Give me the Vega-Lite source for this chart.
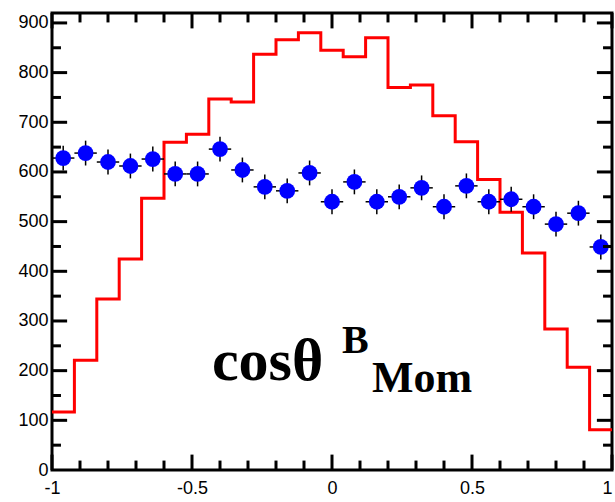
{
  "$schema": "https://vega.github.io/schema/vega-lite/v6.json",
  "width": 560,
  "height": 457,
  "autosize": {"type": "none"},
  "padding": {"left": 52, "top": 13, "right": 3, "bottom": 32},
  "background": "white",
  "config": {
    "view": {"stroke": "black", "strokeWidth": 3},
    "axis": {"ticks": false, "domain": false, "grid": false, "title": null, "labelFont": "Liberation Sans", "labelFontSize": 18, "labelColor": "black"}
  },
  "datasets": {
    "hist": [
      {"edge": -1.00, "n": 117}, {"edge": -0.92, "n": 221}, {"edge": -0.84, "n": 344}, {"edge": -0.76, "n": 425},
      {"edge": -0.68, "n": 547}, {"edge": -0.60, "n": 660}, {"edge": -0.52, "n": 676}, {"edge": -0.44, "n": 747},
      {"edge": -0.36, "n": 741}, {"edge": -0.28, "n": 837}, {"edge": -0.20, "n": 866}, {"edge": -0.12, "n": 880},
      {"edge": -0.04, "n": 845}, {"edge": 0.04, "n": 832}, {"edge": 0.12, "n": 870}, {"edge": 0.20, "n": 770},
      {"edge": 0.28, "n": 775}, {"edge": 0.36, "n": 713}, {"edge": 0.44, "n": 661}, {"edge": 0.52, "n": 585},
      {"edge": 0.60, "n": 519}, {"edge": 0.68, "n": 437}, {"edge": 0.76, "n": 284}, {"edge": 0.84, "n": 207},
      {"edge": 0.92, "n": 81}, {"edge": 1.00, "n": 81}
    ],
    "pts": [
      {"x": -0.96, "lo": -1.00, "hi": -0.92, "n": 628, "err": 25},
      {"x": -0.88, "lo": -0.92, "hi": -0.84, "n": 638, "err": 25},
      {"x": -0.80, "lo": -0.84, "hi": -0.76, "n": 620, "err": 25},
      {"x": -0.72, "lo": -0.76, "hi": -0.68, "n": 612, "err": 25},
      {"x": -0.64, "lo": -0.68, "hi": -0.60, "n": 626, "err": 25},
      {"x": -0.56, "lo": -0.60, "hi": -0.52, "n": 596, "err": 25},
      {"x": -0.48, "lo": -0.52, "hi": -0.44, "n": 596, "err": 25},
      {"x": -0.40, "lo": -0.44, "hi": -0.36, "n": 646, "err": 25},
      {"x": -0.32, "lo": -0.36, "hi": -0.28, "n": 604, "err": 25},
      {"x": -0.24, "lo": -0.28, "hi": -0.20, "n": 570, "err": 25},
      {"x": -0.16, "lo": -0.20, "hi": -0.12, "n": 562, "err": 25},
      {"x": -0.08, "lo": -0.12, "hi": -0.04, "n": 598, "err": 25},
      {"x": 0.00, "lo": -0.04, "hi": 0.04, "n": 540, "err": 25},
      {"x": 0.08, "lo": 0.04, "hi": 0.12, "n": 580, "err": 25},
      {"x": 0.16, "lo": 0.12, "hi": 0.20, "n": 540, "err": 25},
      {"x": 0.24, "lo": 0.20, "hi": 0.28, "n": 550, "err": 25},
      {"x": 0.32, "lo": 0.28, "hi": 0.36, "n": 568, "err": 25},
      {"x": 0.40, "lo": 0.36, "hi": 0.44, "n": 530, "err": 25},
      {"x": 0.48, "lo": 0.44, "hi": 0.52, "n": 572, "err": 25},
      {"x": 0.56, "lo": 0.52, "hi": 0.60, "n": 540, "err": 25},
      {"x": 0.64, "lo": 0.60, "hi": 0.68, "n": 545, "err": 25},
      {"x": 0.72, "lo": 0.68, "hi": 0.76, "n": 530, "err": 25},
      {"x": 0.80, "lo": 0.76, "hi": 0.84, "n": 495, "err": 25},
      {"x": 0.88, "lo": 0.84, "hi": 0.92, "n": 517, "err": 25},
      {"x": 0.96, "lo": 0.92, "hi": 1.00, "n": 449, "err": 25}
    ],
    "xmajor": [{"v": -1}, {"v": -0.5}, {"v": 0}, {"v": 0.5}, {"v": 1}],
    "xminor": [{"v": -0.9}, {"v": -0.8}, {"v": -0.7}, {"v": -0.6}, {"v": -0.4}, {"v": -0.3}, {"v": -0.2}, {"v": -0.1}, {"v": 0.1}, {"v": 0.2}, {"v": 0.3}, {"v": 0.4}, {"v": 0.6}, {"v": 0.7}, {"v": 0.8}, {"v": 0.9}],
    "ymajor": [{"v": 100}, {"v": 200}, {"v": 300}, {"v": 400}, {"v": 500}, {"v": 600}, {"v": 700}, {"v": 800}, {"v": 900}],
    "yminor": [{"v": 50}, {"v": 150}, {"v": 250}, {"v": 350}, {"v": 450}, {"v": 550}, {"v": 650}, {"v": 750}, {"v": 850}]
  },
  "layer": [
    {
      "data": {"name": "hist"},
      "mark": {"type": "line", "interpolate": "step-after", "color": "#ff0000", "strokeWidth": 3},
      "encoding": {
        "x": {"field": "edge", "type": "quantitative", "title": null, "scale": {"domain": [-1, 1], "nice": false}, "axis": {"values": [-1, -0.5, 0, 0.5, 1], "labelExpr": "'' + datum.value", "labelPadding": 9, "labelFlush": false, "labelAlign": {"expr": "datum.value == 1 ? 'right' : 'center'"}}},
        "y": {"field": "n", "type": "quantitative", "title": null, "scale": {"domain": [0, 920], "nice": false}, "axis": {"values": [0, 100, 200, 300, 400, 500, 600, 700, 800, 900], "labelPadding": 4}}
      }
    },
    {
      "data": {"name": "pts"},
      "mark": {"type": "rule", "color": "black", "strokeWidth": 1.5},
      "encoding": {
        "x": {"field": "lo", "type": "quantitative", "title": null},
        "x2": {"field": "hi"},
        "y": {"field": "n", "type": "quantitative", "title": null}
      }
    },
    {
      "data": {"name": "pts"},
      "mark": {"type": "errorbar", "color": "black", "rule": {"strokeWidth": 1.5}},
      "encoding": {
        "x": {"field": "x", "type": "quantitative", "title": null},
        "y": {"field": "n", "type": "quantitative", "title": null},
        "yError": {"field": "err"}
      }
    },
    {
      "data": {"name": "pts"},
      "mark": {"type": "circle", "color": "#0000ff", "opacity": 1, "size": 250},
      "encoding": {
        "x": {"field": "x", "type": "quantitative", "title": null},
        "y": {"field": "n", "type": "quantitative", "title": null}
      }
    },
    {
      "data": {"name": "xmajor"},
      "mark": {"type": "rule", "color": "black", "strokeWidth": 3},
      "encoding": {"x": {"field": "v", "type": "quantitative", "title": null}, "y": {"datum": 0}, "y2": {"datum": 31}}
    },
    {
      "data": {"name": "xminor"},
      "mark": {"type": "rule", "color": "black", "strokeWidth": 3},
      "encoding": {"x": {"field": "v", "type": "quantitative", "title": null}, "y": {"datum": 0}, "y2": {"datum": 19}}
    },
    {
      "data": {"name": "xmajor"},
      "mark": {"type": "rule", "color": "black", "strokeWidth": 3},
      "encoding": {"x": {"field": "v", "type": "quantitative", "title": null}, "y": {"datum": 920}, "y2": {"datum": 889}}
    },
    {
      "data": {"name": "xminor"},
      "mark": {"type": "rule", "color": "black", "strokeWidth": 3},
      "encoding": {"x": {"field": "v", "type": "quantitative", "title": null}, "y": {"datum": 920}, "y2": {"datum": 901}}
    },
    {
      "data": {"name": "ymajor"},
      "mark": {"type": "rule", "color": "black", "strokeWidth": 3},
      "encoding": {"y": {"field": "v", "type": "quantitative", "title": null}, "x": {"datum": -1}, "x2": {"datum": -0.946}}
    },
    {
      "data": {"name": "yminor"},
      "mark": {"type": "rule", "color": "black", "strokeWidth": 3},
      "encoding": {"y": {"field": "v", "type": "quantitative", "title": null}, "x": {"datum": -1}, "x2": {"datum": -0.968}}
    },
    {
      "data": {"name": "ymajor"},
      "mark": {"type": "rule", "color": "black", "strokeWidth": 3},
      "encoding": {"y": {"field": "v", "type": "quantitative", "title": null}, "x": {"datum": 1}, "x2": {"datum": 0.946}}
    },
    {
      "data": {"name": "yminor"},
      "mark": {"type": "rule", "color": "black", "strokeWidth": 3},
      "encoding": {"y": {"field": "v", "type": "quantitative", "title": null}, "x": {"datum": 1}, "x2": {"datum": 0.968}}
    },
    {
      "data": {"values": [{"t": "cosθ", "x": -0.4286, "y": 181}]},
      "mark": {"type": "text", "font": "Liberation Serif", "fontWeight": "bold", "fontSize": 60, "align": "left", "baseline": "alphabetic", "color": "black"},
      "encoding": {"x": {"field": "x", "type": "quantitative", "title": null}, "y": {"field": "y", "type": "quantitative", "title": null}, "text": {"field": "t"}}
    },
    {
      "data": {"values": [{"t": "B", "x": 0.0357, "y": 236}]},
      "mark": {"type": "text", "font": "Liberation Serif", "fontWeight": "bold", "fontSize": 40, "align": "left", "baseline": "alphabetic", "color": "black"},
      "encoding": {"x": {"field": "x", "type": "quantitative", "title": null}, "y": {"field": "y", "type": "quantitative", "title": null}, "text": {"field": "t"}}
    },
    {
      "data": {"values": [{"t": "Mom", "x": 0.1429, "y": 157}]},
      "mark": {"type": "text", "font": "Liberation Serif", "fontWeight": "bold", "fontSize": 44, "align": "left", "baseline": "alphabetic", "color": "black"},
      "encoding": {"x": {"field": "x", "type": "quantitative", "title": null}, "y": {"field": "y", "type": "quantitative", "title": null}, "text": {"field": "t"}}
    }
  ]
}
